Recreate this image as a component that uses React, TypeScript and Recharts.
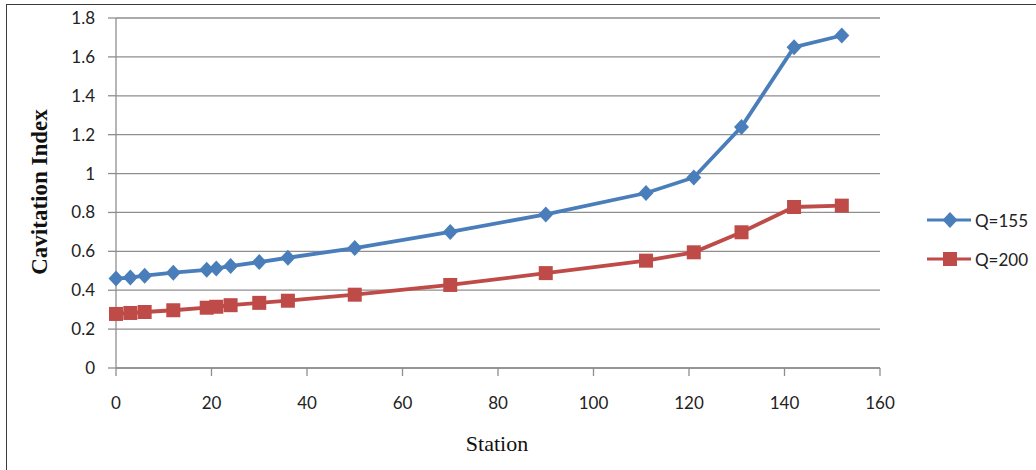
import { LineChart, Line, XAxis, YAxis, CartesianGrid } from "recharts";

// station positions (x) and cavitation index per discharge
const stations = [0, 3, 6, 12, 19, 21, 24, 30, 36, 50, 70, 90, 111, 121, 131, 142, 152];
const q155 = [0.46, 0.465, 0.475, 0.49, 0.505, 0.512, 0.524, 0.545, 0.567, 0.617, 0.70, 0.79, 0.90, 0.98, 1.24, 1.65, 1.71];
const q200 = [0.278, 0.283, 0.288, 0.297, 0.31, 0.315, 0.323, 0.335, 0.346, 0.377, 0.427, 0.488, 0.552, 0.595, 0.698, 0.828, 0.835];

const xTicks = [0, 20, 40, 60, 80, 100, 120, 140, 160];
const yTicks = [0, 0.2, 0.4, 0.6, 0.8, 1, 1.2, 1.4, 1.6, 1.8];

const series = [
  { key: "q155", name: "Q=155", color: "#4A7EBB", marker: "diamond" },
  { key: "q200", name: "Q=200", color: "#BE4B48", marker: "square" },
];

const data = stations.map((s, i) => ({ station: s, q155: q155[i], q200: q200[i] }));

const GRID = "#8e8e8e";
const TICK_FONT = "Lato, 'Open Sans', sans-serif";

function Marker({ cx, cy, type, color }: { cx: number; cy: number; type: string; color: string }) {
  if (type === "diamond") {
    return (
      <polygon
        points={`${cx},${cy - 8} ${cx + 7.5},${cy} ${cx},${cy + 8} ${cx - 7.5},${cy}`}
        fill={color}
      />
    );
  }
  return <rect x={cx - 7} y={cy - 7} width={14} height={14} fill={color} />;
}

function LegendBox() {
  return (
    <div style={{ position: "absolute", left: 926, top: 206 }}>
      {series.map((s, i) => (
        <div
          key={s.key}
          style={{ display: "flex", alignItems: "center", height: 28, marginBottom: i === 0 ? 11 : 0 }}
        >
          <svg width={46} height={20}>
            <line x1={1} y1={10} x2={45} y2={10} stroke={s.color} strokeWidth={3} />
            <Marker cx={24} cy={10} type={s.marker} color={s.color} />
          </svg>
          <span style={{ fontFamily: TICK_FONT, fontSize: 17, color: "#222", marginLeft: 3 }}>{s.name}</span>
        </div>
      ))}
    </div>
  );
}

export default function App() {
  return (
    <div style={{ position: "absolute", left: 0, top: 0, width: 1036, height: 470, background: "#fff", overflow: "hidden" }}>
      <div
        style={{
          position: "absolute",
          left: 6,
          top: 4,
          width: 1100,
          height: 600,
          border: "1.5px solid #3c3c3c",
        }}
      />
      <div style={{ position: "absolute", left: 0, top: 0 }}>
        <LineChart width={1036} height={470} data={data} margin={{ top: 18, right: 156, bottom: 42, left: 0 }}>
          <CartesianGrid vertical={false} stroke={GRID} strokeWidth={1.3} />
          <XAxis
            dataKey="station"
            type="number"
            domain={[0, 160]}
            ticks={xTicks}
            height={60}
            stroke={GRID}
            strokeWidth={1.3}
            tickSize={8}
            tickMargin={21}
            tick={{ fill: "#222", fontSize: 17, fontFamily: TICK_FONT }}
          />
          <YAxis
            type="number"
            domain={[0, 1.8]}
            ticks={yTicks}
            width={116}
            stroke={GRID}
            strokeWidth={1.3}
            tickSize={8}
            tickMargin={13}
            tick={{ fill: "#222", fontSize: 17, fontFamily: TICK_FONT }}
            tickFormatter={(v: number) => (Number.isInteger(v) ? String(v) : v.toFixed(1))}
          />
          {series.map((s) => (
            <Line
              key={s.key}
              type="linear"
              dataKey={s.key}
              name={s.name}
              stroke={s.color}
              strokeWidth={3.8}
              isAnimationActive={false}
              dot={(p: any) => (
                <Marker key={`${s.key}-${p.index}`} cx={p.cx} cy={p.cy} type={s.marker} color={s.color} />
              )}
              activeDot={false}
            />
          ))}
        </LineChart>
      </div>
      <div
        style={{
          position: "absolute",
          left: 40,
          top: 192,
          transform: "translate(-50%, -50%) rotate(-90deg)",
          whiteSpace: "nowrap",
          fontFamily: "'Liberation Serif', serif",
          fontWeight: "bold",
          fontSize: 23,
          color: "#111",
        }}
      >
        Cavitation Index
      </div>
      <div
        style={{
          position: "absolute",
          left: 497,
          top: 444,
          transform: "translate(-50%, -50%)",
          whiteSpace: "nowrap",
          fontFamily: "'Liberation Serif', serif",
          fontSize: 22,
          color: "#111",
        }}
      >
        Station
      </div>
      <LegendBox />
    </div>
  );
}
